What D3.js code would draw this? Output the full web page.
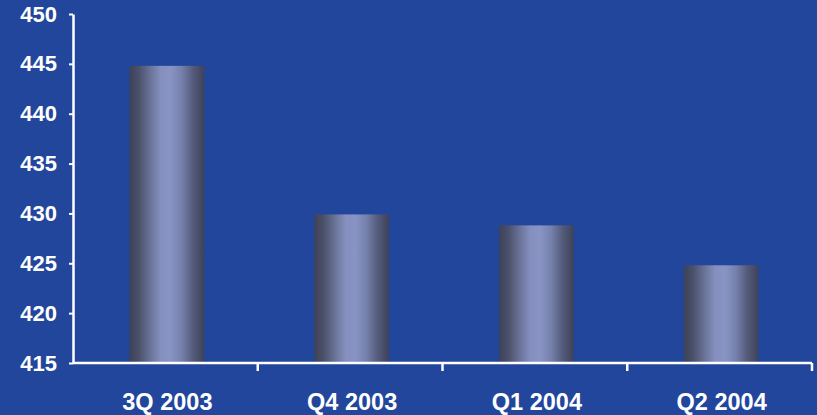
<!DOCTYPE html>
<html>
<head>
<meta charset="utf-8">
<script src="https://cdn.jsdelivr.net/npm/d3@7/dist/d3.min.js"></script>
<style>
  html, body { margin: 0; padding: 0; background: #22469c; }
  svg { display: block; }
  text { font-family: "Liberation Sans", Arial, sans-serif; font-weight: bold; fill: #ffffff; }
</style>
</head>
<body>
<svg id="chart" width="817" height="415"></svg>
<script>
// Quarterly values
const categories = ["3Q 2003", "Q4 2003", "Q1 2004", "Q2 2004"];
const values = [444.8, 429.9, 428.8, 424.8];
const yTicks = [415, 420, 425, 430, 435, 440, 445, 450];

const width = 817, height = 415;
const margin = { left: 73, right: 5, top: 14, bottom: 52 };

const svg = d3.select("#chart");

svg.append("rect").attr("width", width).attr("height", height).attr("fill", "#22469c");

// Cylinder-style shading across each bar
const defs = svg.append("defs");
const grad = defs.append("linearGradient").attr("id", "barShade")
  .attr("x1", "0%").attr("x2", "100%").attr("y1", "0%").attr("y2", "0%");
[
  [0, "#3d4259"], [0.12, "#4a5069"], [0.28, "#6a7398"], [0.42, "#8590bf"],
  [0.55, "#8894c4"], [0.7, "#7580ab"], [0.85, "#545b7a"], [1, "#3d4259"]
].forEach(([o, c]) => grad.append("stop").attr("offset", o).attr("stop-color", c));

const x = d3.scaleBand()
  .domain(categories)
  .range([margin.left, width - margin.right])
  .paddingInner(0.595)
  .paddingOuter(0.2975);

const y = d3.scaleLinear()
  .domain([415, 450])
  .range([height - margin.bottom, margin.top]);

// Bars
svg.append("g").selectAll("rect")
  .data(values)
  .join("rect")
  .attr("x", (d, i) => x(categories[i]) + 1.5)
  .attr("y", d => y(d))
  .attr("width", x.bandwidth())
  .attr("height", d => y(415) - y(d))
  .attr("fill", "url(#barShade)");

// Y axis
const yAxis = d3.axisLeft(y).tickValues(yTicks).tickSize(4).tickPadding(12).tickSizeOuter(0);
const gy = svg.append("g").attr("transform", `translate(${margin.left},0)`).call(yAxis);
gy.select(".domain").attr("stroke", "#ffffff").attr("stroke-width", 2.5);
gy.selectAll(".tick line").attr("stroke", "#ffffff").attr("stroke-width", 2);
gy.selectAll(".tick text").style("font-size", "22px").attr("fill", "#ffffff");

// X axis with separators between categories
const gx = svg.append("g").attr("transform", `translate(0,${y(415)})`);
gx.append("line")
  .attr("x1", margin.left).attr("x2", width - margin.right)
  .attr("y1", 0).attr("y2", 0)
  .attr("stroke", "#ffffff").attr("stroke-width", 2.5);
const sepPositions = d3.range(1, categories.length + 1)
  .map(i => margin.left + (width - margin.right - margin.left) * i / categories.length);
gx.selectAll("line.sep")
  .data(sepPositions)
  .join("line")
  .attr("class", "sep")
  .attr("x1", d => d).attr("x2", d => d)
  .attr("y1", 0).attr("y2", 8)
  .attr("stroke", "#ffffff").attr("stroke-width", 2.5);
gx.selectAll("text")
  .data(categories)
  .join("text")
  .attr("x", d => x(d) + x.bandwidth() / 2 + 2)
  .attr("y", 47)
  .attr("text-anchor", "middle")
  .style("font-size", "23.5px")
  .text(d => d);
</script>
</body>
</html>
